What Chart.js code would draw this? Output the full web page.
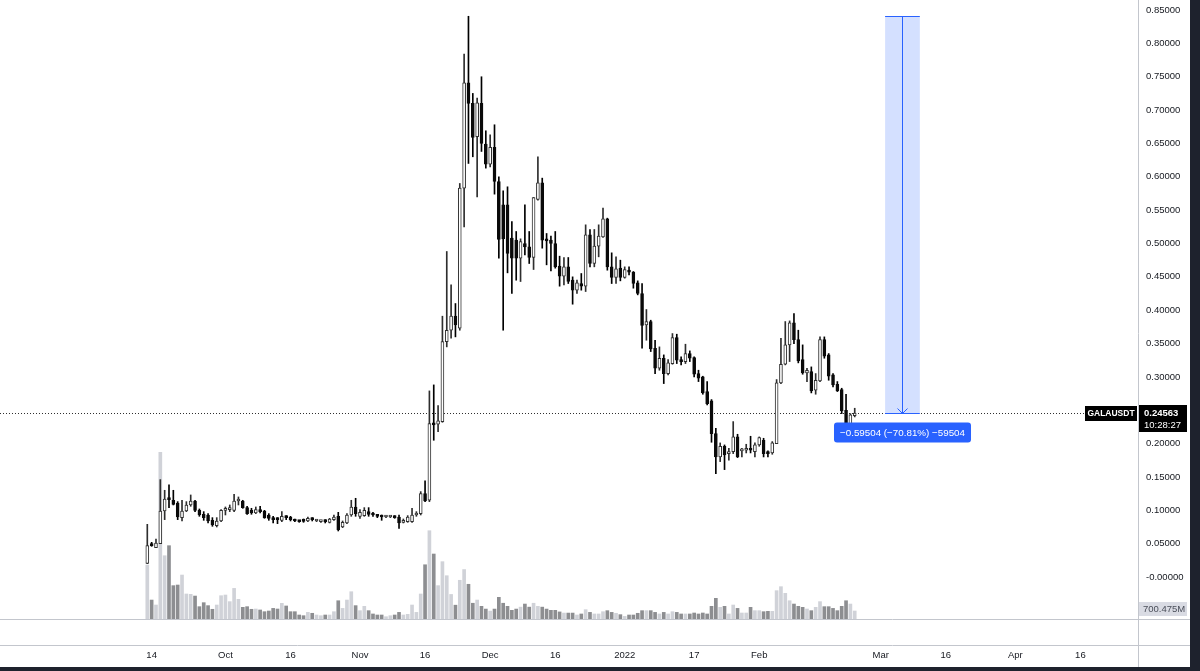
<!DOCTYPE html>
<html>
<head>
<meta charset="utf-8">
<title>GALAUSDT</title>
<script src="https://cdn.jsdelivr.net/npm/chart.js@4.4.1/dist/chart.umd.min.js"></script>
<style>
  html, body { margin: 0; padding: 0; background: #1e222d; }
  #wrap { width: 1190px; height: 667px; background: #ffffff; }
  canvas { display: block; }
</style>
</head>
<body>
<div id="wrap"><canvas id="chart" width="1190" height="667"></canvas></div>
<script>
// ---------- data (daily candles, first bar = startDate) ----------
const startDate = '2021-09-13';

const open = [
  .0205,.048,.044,.050,.099,.118,.115,.111,.089,.099,
  .108,.114,.100,.094,.093,.085,.077,.084,.100,.101,
  .100,.114,.114,.104,.100,.096,.101,.099,.093,.089,
  .087,.085,.091,.090,.086,.084,.085,.084,.087,.084,
  .083,.084,.082,.086,.091,.075,.081,.093,.105,.091,
  .092,.098,.095,.093,.091,.090,.090,.091,.090,.082,
  .083,.083,.093,.095,.125,.115,.231,.229,.233,.353,
  .370,.391,.373,.583,.741,.710,.660,.710,.649,.619,
  .644,.593,.558,.558,.508,.505,.478,.500,.495,.479,
  .566,.591,.505,.505,.500,.466,.451,.465,.445,.430,
  .440,.436,.513,.470,.496,.510,.537,.465,.449,.463,
  .449,.460,.457,.441,.425,.378,.383,.343,.313,.328,
  .305,.320,.359,.325,.323,.335,.329,.305,.300,.278,
  .264,.215,.180,.196,.185,.188,.210,.189,.190,.191,
  .188,.198,.205,.186,.186,.200,.291,.319,.348,.381,
  .356,.326,.306,.308,.280,.294,.356,.333,.303,.289,
  .281,.250,.225,.242
];
const high = [
  .079,.052,.057,.146,.130,.138,.130,.113,.115,.113,
  .123,.115,.102,.098,.095,.089,.089,.101,.105,.108,
  .124,.120,.115,.106,.103,.105,.106,.100,.095,.091,
  .089,.098,.092,.091,.087,.085,.087,.090,.089,.086,
  .085,.086,.088,.093,.097,.084,.095,.115,.118,.101,
  .104,.104,.097,.094,.093,.091,.092,.092,.093,.087,
  .092,.103,.098,.128,.144,.279,.288,.257,.391,.488,
  .438,.410,.590,.784,.84067,.725,.718,.750,.669,.663,
  .678,.600,.579,.585,.533,.518,.507,.558,.518,.569,
  .630,.598,.515,.511,.518,.481,.479,.479,.450,.445,
  .455,.528,.521,.521,.528,.553,.538,.486,.480,.475,
  .465,.465,.458,.444,.440,.401,.385,.355,.345,.333,
  .326,.365,.364,.330,.349,.339,.330,.310,.301,.293,
  .266,.223,.201,.198,.193,.233,.214,.193,.199,.211,
  .201,.210,.208,.189,.203,.296,.358,.383,.384,.395,
  .370,.348,.313,.315,.305,.360,.360,.335,.305,.293,
  .283,.274,.245,.253
];
const low = [
  .0200,.046,.044,.050,.086,.104,.108,.086,.084,.098,
  .106,.098,.091,.085,.081,.076,.075,.083,.093,.098,
  .098,.108,.103,.094,.094,.095,.096,.088,.085,.081,
  .080,.083,.086,.084,.083,.082,.082,.083,.084,.083,
  .082,.081,.081,.085,.069,.074,.080,.091,.091,.088,
  .091,.091,.091,.089,.085,.089,.089,.088,.073,.081,
  .082,.082,.091,.093,.113,.113,.205,.218,.232,.345,
  .358,.360,.370,.525,.620,.630,.570,.638,.613,.615,
  .574,.478,.370,.456,.425,.445,.443,.483,.470,.461,
  .565,.493,.468,.459,.463,.436,.438,.440,.409,.425,
  .430,.428,.465,.465,.480,.509,.460,.440,.440,.444,
  .448,.453,.433,.423,.343,.355,.338,.305,.310,.290,
  .303,.319,.320,.318,.320,.323,.300,.293,.274,.258,
  .202,.155,.173,.161,.175,.185,.179,.180,.186,.186,
  .180,.196,.180,.180,.184,.200,.290,.318,.323,.350,
  .321,.304,.293,.276,.274,.293,.328,.295,.285,.278,
  .245,.220,.220,.240
];
const close = [
  .047,.047,.051,.099,.117,.116,.109,.090,.099,.108,
  .114,.100,.093,.089,.084,.078,.084,.100,.101,.102,
  .114,.1145,.104,.095,.096,.101,.098,.089,.088,.086,
  .086,.091,.089,.086,.084,.083,.0835,.088,.086,.0845,
  .0835,.083,.087,.090,.071,.082,.093,.105,.095,.097,
  .100,.094,.093,.091,.090,.0902,.091,.089,.081,.085,
  .090,.093,.095,.125,.114,.230,.228,.234,.353,.370,
  .391,.378,.583,.741,.710,.659,.711,.650,.619,.644,
  .593,.506,.507,.485,.478,.478,.503,.495,.479,.569,
  .591,.505,.504,.500,.465,.451,.465,.443,.430,.441,
  .436,.513,.470,.496,.511,.537,.465,.449,.462,.449,
  .461,.457,.440,.425,.377,.383,.342,.313,.328,.305,
  .321,.359,.325,.323,.335,.328,.304,.298,.276,.260,
  .215,.180,.196,.183,.188,.210,.180,.190,.192,.190,
  .198,.209,.185,.185,.201,.291,.319,.348,.381,.356,
  .324,.306,.310,.279,.295,.356,.331,.301,.288,.279,
  .249,.223,.243,.24563
];
// volume in millions
const volume = [
  4725,1660,1225,14600,5540,6420,2920,2975,3850,2190,
  2160,2010,1080,1430,1170,850,1225,2040,2100,1520,
  2680,1720,1020,1080,850,875,790,640,700,930,
  875,1370,1140,640,640,350,290,580,500,350,
  290,350,350,640,1600,930,1660,2390,1170,730,
  1110,730,440,350,350,200,290,350,580,350,
  410,1225,580,2190,4750,7730,5690,2920,5020,3790,
  2150,1210,3390,4330,3040,1380,1660,1110,870,690,
  870,1900,1380,1110,760,870,1040,1310,1040,1380,
  1110,1040,870,760,760,620,520,520,520,350,
  440,815,580,440,440,640,730,580,500,380,
  230,350,350,500,730,730,730,580,440,580,
  440,640,580,440,440,440,525,440,525,440,
  1110,1810,1020,1110,440,1225,930,525,525,1020,
  730,730,640,670,670,2480,2830,2250,1600,1310,
  1110,1020,875,730,1020,1520,1080,1080,930,730,
  1110,1600,1310,700.475
];

const priceTicks = [0, 0.05, 0.10, 0.15, 0.20, 0.25, 0.30, 0.35, 0.40, 0.45,
                    0.50, 0.55, 0.60, 0.65, 0.70, 0.75, 0.80, 0.85];
const timeTickDates = ['2021-09-14', '2021-10-01', '2021-10-16', '2021-11-01', '2021-11-16',
                       '2021-12-01', '2021-12-16', '2022-01-01', '2022-01-17', '2022-02-01',
                       '2022-03-01', '2022-03-16', '2022-04-01', '2022-04-16'];
const timeTickLabels = ['14', 'Oct', '16', 'Nov', '16', 'Dec', '16', '2022', '17', 'Feb',
                        'Mar', '16', 'Apr', '16'];

const symbol = 'GALAUSDT';
const countdown = '10:28:27';
const volumeTag = '700.475M';
const measureStart = '2022-03-02';
const measureEnd = '2022-03-10';
const measureTop = 0.84067;
const measureText = '\u22120.59504 (\u221270.81%) \u221259504';

// ---------- helpers ----------
const DAY = 86400000;
const t0 = Date.parse(startDate + 'T00:00:00Z');
const dayIndex = s => Math.round((Date.parse(s + 'T00:00:00Z') - t0) / DAY);

const lastPrice = close[close.length - 1];
const lastVolume = volume[volume.length - 1];
const isUp = close.map((c, i) => c >= open[i]);

const FONT = '"Liberation Sans", Arial, sans-serif';
const TEXT = '#15181f';

// ---------- overlays: price line, measure tool, tags, pane borders ----------
const overlay = {
  id: 'overlay',
  beforeDatasetsDraw(chart) {
    const { ctx, chartArea: a, scales: { y } } = chart;
    const yl = Math.round(y.getPixelForValue(lastPrice)) + 0.5;
    ctx.save();
    ctx.strokeStyle = '#2f2f2f';
    ctx.lineWidth = 1;
    ctx.setLineDash([1, 2]);
    ctx.beginPath();
    ctx.moveTo(a.left, yl);
    ctx.lineTo(a.right - 54, yl);
    ctx.stroke();
    ctx.restore();
  },
  afterDatasetsDraw(chart) {
    const { ctx, scales: { x, y } } = chart;
    const xl = x.getPixelForValue(dayIndex(measureStart));
    const xr = x.getPixelForValue(dayIndex(measureEnd));
    const xm = Math.round((xl + xr) / 2) + 0.5;
    const yt = Math.round(y.getPixelForValue(measureTop)) + 0.5;
    const yb = Math.round(y.getPixelForValue(lastPrice)) + 0.5;

    ctx.save();
    ctx.fillStyle = 'rgba(41, 98, 255, 0.2)';
    ctx.fillRect(xl, yt, xr - xl, yb - yt);
    ctx.strokeStyle = '#2962ff';
    ctx.lineWidth = 1;
    ctx.beginPath();
    ctx.moveTo(xl, yt); ctx.lineTo(xr, yt);
    ctx.moveTo(xl, yb); ctx.lineTo(xr, yb);
    ctx.moveTo(xm, yt); ctx.lineTo(xm, yb);
    ctx.moveTo(xm - 5, yb - 5); ctx.lineTo(xm, yb); ctx.lineTo(xm + 5, yb - 5);
    ctx.stroke();

    // measure label
    ctx.font = '9.8px ' + FONT;
    const tw = ctx.measureText(measureText).width;
    const bw = tw + 12, bh = 20;
    const bx = xm - bw / 2, by = yb + 9;
    ctx.fillStyle = '#2962ff';
    ctx.beginPath();
    ctx.roundRect(bx, by, bw, bh, 3);
    ctx.fill();
    ctx.fillStyle = '#ffffff';
    ctx.textAlign = 'center';
    ctx.textBaseline = 'middle';
    ctx.fillText(measureText, xm, by + bh / 2 + 0.5);
    ctx.restore();
  },
  afterDraw(chart) {
    const { ctx, chartArea: a, scales: { y, yVol } } = chart;
    const W = chart.width, H = chart.height;
    ctx.save();
    // pane borders
    ctx.strokeStyle = '#c3c6cd';
    ctx.lineWidth = 1;
    ctx.beginPath();
    ctx.moveTo(0, a.bottom + 0.5); ctx.lineTo(W, a.bottom + 0.5);
    ctx.moveTo(0, a.bottom + 26.5); ctx.lineTo(W, a.bottom + 26.5);
    ctx.moveTo(a.right + 0.5, 0); ctx.lineTo(a.right + 0.5, H);
    ctx.stroke();

    const yl = Math.round(y.getPixelForValue(lastPrice));

    // symbol tag
    ctx.fillStyle = '#000000';
    ctx.fillRect(a.right - 53, yl - 7, 52, 15);
    ctx.fillStyle = '#ffffff';
    ctx.font = 'bold 8.5px ' + FONT;
    ctx.textAlign = 'center';
    ctx.textBaseline = 'middle';
    ctx.fillText(symbol, a.right - 27, yl + 0.5);

    // last price + countdown tag
    ctx.fillStyle = '#000000';
    ctx.fillRect(a.right + 1, yl - 8, 48, 27);
    ctx.fillStyle = '#ffffff';
    ctx.textAlign = 'left';
    ctx.font = 'bold 9.5px ' + FONT;
    ctx.fillText(lastPrice.toFixed(5), a.right + 6, yl);
    ctx.font = '9.5px ' + FONT;
    ctx.fillText(countdown, a.right + 6, yl + 12);

    // volume tag
    const yv = Math.round(yVol.getPixelForValue(lastVolume)) - 2;
    ctx.fillStyle = '#d9dbe3';
    ctx.fillRect(a.right + 1, yv - 7, 48, 14);
    ctx.fillStyle = '#4a4e59';
    ctx.font = '9.5px ' + FONT;
    ctx.fillText(volumeTag, a.right + 5, yv + 0.5);
    ctx.restore();
  }
};

// ---------- chart ----------
const ctx = document.getElementById('chart').getContext('2d');
new Chart(ctx, {
  type: 'bar',
  data: {
    datasets: [
      {
        label: 'Volume',
        data: volume.map((v, i) => ({ x: i, y: v })),
        yAxisID: 'yVol',
        backgroundColor: isUp.map(u => u ? '#d0d2d8' : '#8d8e91'),
        barThickness: 3,
        order: 3
      },
      {
        label: 'Wick',
        data: high.map((h, i) => ({ x: i, y: [low[i], h] })),
        yAxisID: 'y',
        backgroundColor: isUp.map(u => u ? '#2e2e2e' : '#000000'),
        barThickness: 1,
        order: 2
      },
      {
        label: 'Body',
        data: open.map((o, i) => ({ x: i, y: [Math.min(o, close[i]), Math.max(o, close[i])] })),
        yAxisID: 'y',
        backgroundColor: isUp.map(u => u ? '#ffffff' : '#0a0a0a'),
        borderColor: isUp.map(u => u ? '#2e2e2e' : '#0a0a0a'),
        borderWidth: 1,
        borderSkipped: false,
        barThickness: 3,
        minBarLength: 2,
        order: 1
      }
    ]
  },
  options: {
    responsive: false,
    animation: false,
    events: [],
    layout: { padding: 0 },
    datasets: { bar: { grouped: false } },
    plugins: {
      legend: { display: false },
      tooltip: { enabled: false }
    },
    scales: {
      x: {
        type: 'linear',
        min: -33.94,
        max: 228.27,
        offset: false,
        grid: { display: false, drawTicks: false },
        border: { display: false },
        ticks: {
          autoSkip: false,
          maxRotation: 0,
          padding: 31,
          color: TEXT,
          font: { family: FONT, size: 9.5 },
          callback: (v, i) => timeTickLabels[i]
        },
        afterBuildTicks: s => { s.ticks = timeTickDates.map(d => ({ value: dayIndex(d) })); },
        afterFit: s => { s.height = 48; s.paddingLeft = 0; s.paddingRight = 0; }
      },
      y: {
        position: 'right',
        min: -0.06297,
        max: 0.86507,
        grid: { display: false, drawTicks: false },
        border: { display: false },
        ticks: {
          padding: 8,
          color: TEXT,
          font: { family: FONT, size: 9.5 },
          callback: v => v === 0 ? '-0.00000' : v.toFixed(5)
        },
        afterBuildTicks: s => { s.ticks = priceTicks.map(v => ({ value: v })); },
        afterFit: s => { s.width = 52; s.paddingTop = 0; s.paddingBottom = 0; }
      },
      yVol: {
        display: false,
        min: 0,
        max: 54200
      }
    }
  },
  plugins: [overlay]
});
</script>
</body>
</html>
